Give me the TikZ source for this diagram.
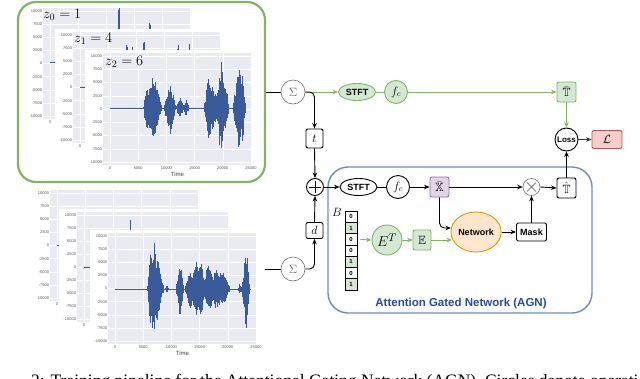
\documentclass[tikz,border=0pt]{standalone}
\usepackage{amssymb}
\usepackage{fontspec}
\setsansfont{Liberation Sans}
\newfontfamily\capfont{Liberation Serif}
\usetikzlibrary{arrows.meta,calc,shapes.geometric}
\definecolor{gcol}{HTML}{82B366}
\definecolor{gfill}{HTML}{D5E8D4}
\definecolor{bcol}{HTML}{6C8EBF}
\definecolor{btext}{HTML}{2C4A96}
\definecolor{pcol}{HTML}{9673A6}
\definecolor{pfill}{HTML}{E1D5E7}
\definecolor{rcol}{HTML}{B85450}
\definecolor{rfill}{HTML}{F8CECC}
\definecolor{ocol}{HTML}{D79B00}
\definecolor{ofill}{HTML}{FFE6CC}
\definecolor{plotbg}{HTML}{EAEAF2}
\definecolor{wavecol}{HTML}{3B5A99}
\definecolor{tickcol}{HTML}{555555}
\newcommand\fsz[1]{\fontsize{#1}{#1}\selectfont}
\pgfmathdeclarefunction{tri}{4}{\pgfmathparse{max(0,1-abs(#1-#2)/#3)*#4}}
% panel: x0 y0 x1 y1, wave x-start, wave x-end, zero line, envelope
\newcommand\plotpanel[8]{%
  \fill[white] (#1-18,#2-3) rectangle (#3+3,#4+13);
  \fill[plotbg] (#1,#2) rectangle (#3,#4);
  \foreach \k/\lab in {0/10000,1/7500,2/5000,3/2500,4/0,5/-2500,6/-5000,7/-7500,8/-10000}{
    \pgfmathsetmacro\ty{#2+3+\k*(#4-#2-6)/8}
    \draw[white,line width=0.5pt] (#1,\ty) -- (#3,\ty);
    \node[ticklab,anchor=east] at (#1-0.5,\ty) {\lab};
  }
  \foreach \j/\lab in {0/0,1/5000,2/10000,3/15000,4/20000,5/25000}{
    \pgfmathsetmacro\tx{#1+7+\j*(#3-#1-8)/5}
    \draw[white,line width=0.5pt] (\tx,#2) -- (\tx,#4);
    \node[ticklab,anchor=north] at (\tx,#4+1) {\lab};
  }
  \node[timelab] at ({(#1+#3)/2},#4+9) {Time};
  \begin{scope}
    \clip (#1,#2) rectangle (#3,#4);
    \pgfmathtruncatemacro\wn{(#6-#5)/0.6}
    \foreach \i in {0,...,\wn}{
      \pgfmathsetmacro\x{#5+\i*0.6}
      \pgfmathsetmacro\e{#8}
      \pgfmathsetmacro\wu{\e*(0.6+0.4*rnd)+0.4}
      \pgfmathsetmacro\wd{\e*(0.6+0.4*rnd)+0.4}
      \draw[wavecol,line width=0.8pt] (\x,#7-\wu) -- (\x,#7+\wd);
    }
  \end{scope}
}
\begin{document}
\begin{tikzpicture}[x=1pt,y=-1pt,
  conn/.style={draw=black,line width=0.9pt},
  arr/.style={conn,-{Stealth[length=5.5pt,width=4.5pt]}},
  garr/.style={draw=gcol,line width=0.9pt,-{Stealth[length=5.5pt,width=4.5pt]}},
  gconn/.style={draw=gcol,line width=0.9pt},
  gbox/.style={draw=gcol,line width=2.2pt,rounded corners=18pt,minimum width=247pt,minimum height=180pt,inner sep=0pt},
  agnbox/.style={draw=bcol,line width=1.4pt,rounded corners=20pt,minimum width=264pt,minimum height=146pt,inner sep=0pt},
  sumc/.style={circle,draw=black!55,line width=0.6pt,minimum size=24pt,inner sep=0pt,text=black!60,font=\fsz{12}},
  gellip/.style={ellipse,draw=gcol,fill=gfill,line width=0.9pt,minimum width=37pt,minimum height=17pt,inner sep=0pt,font=\fsz{9}\sffamily\bfseries},
  bellip/.style={ellipse,draw=black,fill=white,line width=0.9pt,minimum width=37pt,minimum height=17pt,inner sep=0pt,font=\fsz{9}\sffamily\bfseries},
  gcirc/.style={circle,draw=gcol,fill=gfill,line width=0.9pt,minimum size=23pt,inner sep=0pt,font=\fsz{12}},
  bcirc/.style={circle,draw=black,fill=white,line width=0.9pt,minimum size=23pt,inner sep=0pt,font=\fsz{12}},
  sqbox/.style={rectangle,rounded corners=2pt,draw=black,fill=white,line width=0.9pt,minimum width=19pt,minimum height=20pt,inner sep=0pt,font=\fsz{12}},
  gsq/.style={sqbox,draw=gcol,fill=gfill},
  psq/.style={sqbox,draw=pcol,fill=pfill},
  lossbox/.style={sqbox,draw=rcol,fill=rfill,minimum width=30pt,minimum height=18pt},
  labbox/.style={rectangle,rounded corners=2pt,draw=black,fill=white,line width=0.9pt,inner sep=0pt,minimum width=30pt,minimum height=18pt,font=\fsz{9}\sffamily\bfseries},
  cell/.style={rectangle,draw=black,fill=white,line width=0.7pt,minimum width=12pt,minimum height=11.3pt,inner sep=0pt,font=\fsz{6}\sffamily\bfseries},
  onecell/.style={cell,fill=gfill},
  opcirc/.style={circle,draw=black,fill=white,line width=0.9pt,minimum size=17pt,inner sep=0pt},
  plusop/.style={opcirc,path picture={\draw[line width=0.9pt] (path picture bounding box.center) ++(-6pt,0pt) -- ++(12pt,0pt); \draw[line width=0.9pt] (path picture bounding box.center) ++(0pt,-6pt) -- ++(0pt,12pt);}},
  timesop/.style={opcirc,draw=black!55,line width=0.6pt,path picture={\draw[black!70,line width=0.6pt] (path picture bounding box.center) ++(-4.5pt,-4.5pt) -- ++(9pt,9pt); \draw[black!70,line width=0.6pt] (path picture bounding box.center) ++(-4.5pt,4.5pt) -- ++(9pt,-9pt);}},
  ticklab/.style={font=\fsz{4}\sffamily,text=tickcol,inner sep=0.3pt},
  timelab/.style={font=\fsz{6}\sffamily,text=black!75,inner sep=0pt},
  zlab/.style={font=\fsz{14.4},inner sep=0pt,anchor=west},
  mathlab/.style={font=\fsz{13},inner sep=0pt}
]
\useasboundingbox (0,0) rectangle (640,378);
\fill[white] (0,0) rectangle (640,378);
\pgfmathsetseed{7}
% ---------- top waveform stack ----------
\plotpanel{43}{8}{191}{119}{50}{186}{62}{tri(\x,119,2.5,75)+tri(\x,150,2.5,56)+tri(\x,128,3,18)+tri(\x,162,8,25)}
\plotpanel{73}{32}{221}{143}{80}{216}{87}{tri(\x,127,2.5,72)+tri(\x,133,2,52)+tri(\x,144,2.8,56)+tri(\x,141,1.5,36)+tri(\x,178,2,56)+tri(\x,190,2,48)+tri(\x,155,8,20)+tri(\x,205,10,25)}
\plotpanel{103}{53}{252}{165}{110}{245}{108}{tri(\x,153,9,35)+tri(\x,146,2.5,14)+tri(\x,170,6,27)+tri(\x,180,4,11)+tri(\x,186,3,8)+tri(\x,209,5,34)+tri(\x,214,4,18)+tri(\x,221,5,48)+tri(\x,226,3,22)+tri(\x,239,6,43)+tri(\x,243,3,18)}
\node[zlab] (z0) at (43,15) {$z_0=1$};
\node[zlab] (z1) at (74,39) {$z_1=4$};
\node[zlab] (z2) at (105,62) {$z_2=6$};
\node[gbox] (gb) at (141.5,92) {};
% ---------- bottom waveform stack ----------
\plotpanel{50}{190}{199}{301}{57}{193}{245}{tri(\x,86,2.2,48)+tri(\x,125,5,20)+tri(\x,155,10,25)}
\plotpanel{77}{212}{229}{322}{84}{223}{267}{tri(\x,130,2.2,53)+tri(\x,134,1.8,48)+tri(\x,151,1.6,45)+tri(\x,170,10,25)}
\plotpanel{108}{233}{257}{344}{115}{250}{289}{tri(\x,154,7,47)+tri(\x,150,2,20)+tri(\x,160,4,15)+tri(\x,167,2,4)+tri(\x,180,4,28)+tri(\x,190,5,22)+tri(\x,196,4,30)+tri(\x,201,4,30)+tri(\x,208,5,25)+tri(\x,216,8,20)+tri(\x,224,6,17)+tri(\x,246,4,44)+tri(\x,240,2,5)}
% ---------- AGN container ----------
\node[agnbox] (agn) at (460,240) {};
\node[font=\fsz{11.5}\sffamily\bfseries,text=btext,inner sep=0pt] (agnlab) at (461,304) {Attention Gated Network (AGN)};
% ---------- nodes ----------
\node[sumc] (s1) at (293,92) {$\Sigma$};
\node[gellip] (stft1) at (357,92) {STFT};
\node[gcirc] (fc1) at (396,92) {$f_c$};
\node[gsq] (tb) at (566.5,92) {$\bar{\mathbb{T}}$};
\node[bcirc,font=\fsz{8}\sffamily\bfseries] (loss) at (566.5,139.5) {Loss};
\node[lossbox] (L) at (607,139.5) {$\mathcal{L}$};
\node[sqbox] (th) at (566.5,188) {$\hat{\mathbb{T}}$};
\node[timesop] (ot) at (531.5,187) {};
\node[sqbox,minimum width=17pt,minimum height=19pt] (t) at (314.5,138.5) {$t$};
\node[plusop] (op) at (315,187) {};
\node[sqbox,minimum width=17pt,minimum height=16pt] (d) at (314.5,230.5) {$d$};
\node[sumc] (s2) at (293,269) {$\Sigma$};
\coordinate (win) at (265,269);
\node[bellip] (stft2) at (358.5,187) {STFT};
\node[bcirc] (fc2) at (398,187) {$f_c$};
\node[psq] (xb) at (439.5,187) {$\bar{\mathbb{X}}$};
\node[ellipse,draw=ocol,fill=ofill,line width=0.9pt,minimum width=44pt,minimum height=40pt,inner sep=0pt,font=\fsz{9}\sffamily\bfseries] (net) at (476,232) {Network};
\node[labbox] (mask) at (531.5,232) {Mask};
\node[mathlab] (B) at (337,212) {$B$};
\node[cell] (v1) at (351,216.65) {0};
\node[onecell] (v2) at (351,227.95) {1};
\node[cell] (v3) at (351,239.25) {0};
\node[cell] (v4) at (351,250.55) {0};
\node[onecell] (v5) at (351,261.85) {1};
\node[cell] (v6) at (351,273.15) {0};
\node[onecell] (v7) at (351,284.45) {1};
\node[circle,draw=gcol,fill=gfill,line width=0.9pt,minimum size=30pt,inner sep=0pt,font=\fsz{15}] (et) at (387,240) {$E^T$};
\node[gsq,minimum width=18pt] (eb) at (422,240) {$\mathbb{E}$};
% ---------- connectors ----------
\draw[conn] (gb.east |- s1.west) -- (s1.west);
\draw[garr] (s1.east) -- (stft1.west);
\draw[arr,rounded corners=5pt] (s1.east) -| (t.north);
\draw[gconn] (stft1.east) -- (fc1.west);
\draw[garr] (fc1.east) -- (tb.west);
\draw[garr] (tb.south) -- (loss.north);
\draw[arr] (th.north) -- (loss.south);
\draw[arr,draw=black!80] (loss.east) -- (L.west);
\draw[arr] (t.south) -- (op.north);
\draw[conn] (win) -- (s2.west);
\draw[arr,rounded corners=5pt] (s2.east) -| (d.south);
\draw[arr] (d.north) -- (op.south);
\draw[arr] (op.east) -- (stft2.west);
\draw[conn] (stft2.east) -- (fc2.west);
\draw[arr] (fc2.east) -- (xb.west);
\draw[arr] (xb.east) -- (ot.west);
\draw[arr] (ot.east) -- (th.west);
\draw[arr,rounded corners=5pt] (xb.south) |- ($(net.west)+(0.4,-4)$);
\draw[arr] (net.east) -- (mask.west);
\draw[arr] (mask.north) -- (ot.south);
\draw[garr,shorten <=3pt] (v3.east) -- (et.west);
\draw[garr] (et.east) -- (eb.west);
\draw[garr] (eb.east) -- ($(eb.east -| net.west)+(1.5,0)$);
% ---------- caption (cut by the page edge, as in the reference) ----------
\node[anchor=base west,inner sep=0pt,font=\capfont\fsz{17.5}] (cap) at (31,386) {2: Training pipeline for the Attentional Gating Network (AGN). Circles denote operations};
\end{tikzpicture}
\end{document}
